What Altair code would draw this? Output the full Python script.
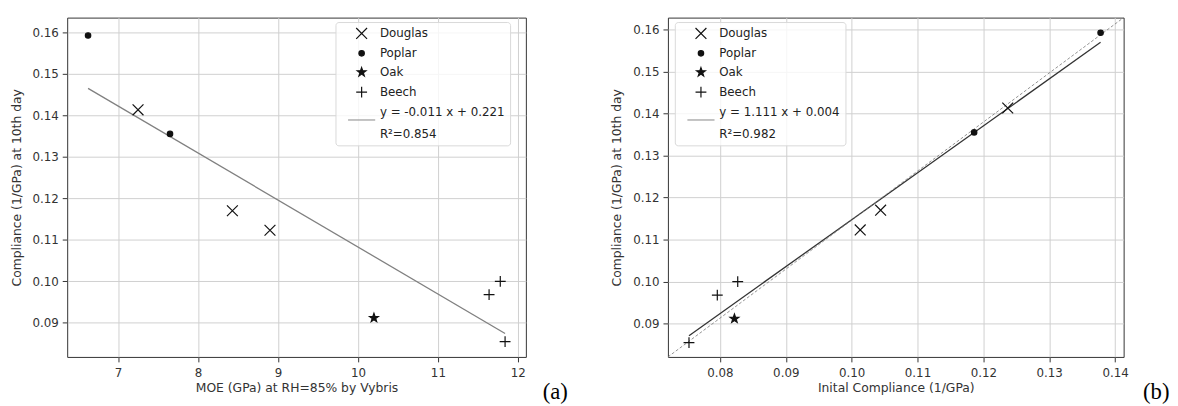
import altair as alt
import pandas as pd

# ---------------- data ----------------
species = ["Douglas", "Douglas", "Douglas", "Poplar", "Poplar", "Oak", "Beech", "Beech", "Beech"]
compliance_10d = [0.1413, 0.1170, 0.1123, 0.1592, 0.1355, 0.0912, 0.1000, 0.0968, 0.0855]
moe_rh85 = [7.25, 8.43, 8.90, 6.625, 7.65, 10.20, 11.78, 11.64, 11.84]
initial_compliance = [0.1237, 0.1044, 0.1013, 0.1378, 0.1186, 0.0822, 0.0827, 0.0796, 0.0753]

legend_keys = ["Douglas", "Poplar", "Oak", "Beech", "fit", "r2"]
legend_shapes = [
    "M-1,-1L1,1M-1,1L1,-1",
    "M-0.5,0A0.5,0.5 0 1,0 0.5,0A0.5,0.5 0 1,0 -0.5,0Z",
    "M0,-0.85L0.2,-0.275L0.808,-0.263L0.323,0.105L0.5,0.688L0,0.34L-0.5,0.688L-0.323,0.105L-0.808,-0.263L-0.2,-0.275Z",
    "M-1,0H1M0,-1V1",
    "M-2.5,1.45H2.5",
    "M0,0",
]
legend_fills = ["#111111", "#111111", "#111111", "#111111", "transparent", "transparent"]
legend_strokes = ["#111111", "#111111", "#111111", "#111111", "#999999", "transparent"]

fit_label_a = ["y = -0.011 x + 0.221", "R²=0.854"]
fit_label_b = ["y = 1.111 x + 0.004", "R²=0.982"]

x_dom_a = [6.364, 12.10]
y_dom_a = [0.0818, 0.1635]
x_dom_b = [0.0721, 0.1413]
y_dom_b = [0.0821, 0.1628]
x_ticks_a = [7, 8, 9, 10, 11, 12]
x_ticks_b = [0.08, 0.09, 0.10, 0.11, 0.12, 0.13, 0.14]
y_ticks = [0.09, 0.10, 0.11, 0.12, 0.13, 0.14, 0.15, 0.16]

y_title = "Compliance (1/GPa) at 10th day"
x_title_a = "MOE (GPa) at RH=85% by Vybris"
x_title_b = "Inital Compliance (1/GPa)"

FONT = "DejaVu Sans"


def panel(xvals, xtitle, xdom, xticks, xfmt, ydom, fit_label, line_color, tag, tag_dx,
          legend_x, width, diag=False):
    df = pd.DataFrame({"x": xvals, "y": compliance_10d, "species": species})
    expr = ("datum.value == 'fit' ? '%s' : (datum.value == 'r2' ? '%s' : datum.label)"
            % (fit_label[0], fit_label[1]))
    legend = alt.Legend(title=None, orient="none", legendX=legend_x, legendY=4.5,
                        labelExpr=expr, labelLimit=400)
    xenc = alt.X("x:Q", scale=alt.Scale(domain=xdom, nice=False, zero=False),
                 axis=alt.Axis(values=xticks, format=xfmt, title=xtitle))
    yenc = alt.Y("y:Q", scale=alt.Scale(domain=ydom, nice=False, zero=False),
                 axis=alt.Axis(values=y_ticks, format=".2f", title=y_title))
    base = alt.Chart(df)
    fit = base.transform_regression("x", "y").mark_line(
        color=line_color, strokeWidth=1.3, clip=True
    ).encode(x=xenc, y=yenc)
    pts = base.mark_point(filled=True, opacity=1, strokeWidth=1.2, size=121).encode(
        x=xenc,
        y=yenc,
        shape=alt.Shape("species:N", scale=alt.Scale(domain=legend_keys, range=legend_shapes), legend=legend),
        fill=alt.Fill("species:N", scale=alt.Scale(domain=legend_keys, range=legend_fills), legend=legend),
        stroke=alt.Stroke("species:N", scale=alt.Scale(domain=legend_keys, range=legend_strokes), legend=legend),
    )
    layers = [fit]
    if diag:
        ddf = pd.DataFrame({"x": xdom, "y": ydom})
        dline = alt.Chart(ddf).mark_line(color="#777777", strokeDash=[3, 2], strokeWidth=0.8, clip=True).encode(
            x=alt.X("x:Q"), y=alt.Y("y:Q"))
        layers.append(dline)
    layers.append(pts)
    return alt.layer(*layers).properties(
        width=width, height=344,
        title=alt.TitleParams(text=tag, orient="bottom", anchor="end", align="left",
                              baseline="alphabetic", dx=tag_dx, offset=5, font="Liberation Serif",
                              fontSize=23, fontWeight="normal", color="black"),
    )


a = panel(moe_rh85, x_title_a, x_dom_a, x_ticks_a, "d", y_dom_a, fit_label_a, "#808080", "(a)", 17, 272, 465)
b = panel(initial_compliance, x_title_b, x_dom_b, x_ticks_b, ".2f", y_dom_b, fit_label_b, "#333333", "(b)", 15, 7, 462, diag=True)

chart = alt.hconcat(a, b, spacing=41).resolve_scale(
    x="independent", y="independent", shape="independent",
    fill="independent", stroke="independent"
).resolve_legend(
    shape="independent", fill="independent", stroke="independent"
).properties(
    padding={"left": 1, "top": 6, "right": 0, "bottom": 0}
).configure_view(
    stroke="#333333", strokeWidth=1
).configure_axis(
    labelFont=FONT, titleFont=FONT, labelFontSize=12, titleFontSize=12.5,
    labelColor="#333333", titleColor="#333333", tickColor="#333333", tickSize=5,
    domain=False, grid=True, gridColor="#cfcfcf", gridWidth=1,
    titleFontWeight="normal"
).configure_axisX(
    labelPadding=6, titlePadding=3
).configure_axisY(
    labelPadding=4, titlePadding=9
).configure_legend(
    labelFont=FONT, labelFontSize=12, labelColor="#222222", fillColor="rgba(255,255,255,0.8)",
    strokeColor="#d8d8d8", cornerRadius=3, padding=5, rowPadding=5.2, labelOffset=12,
    symbolOffset=15, symbolStrokeWidth=1.2, symbolSize=121
)

chart.save("out.html", embed_options={"renderer": "svg", "actions": False})
